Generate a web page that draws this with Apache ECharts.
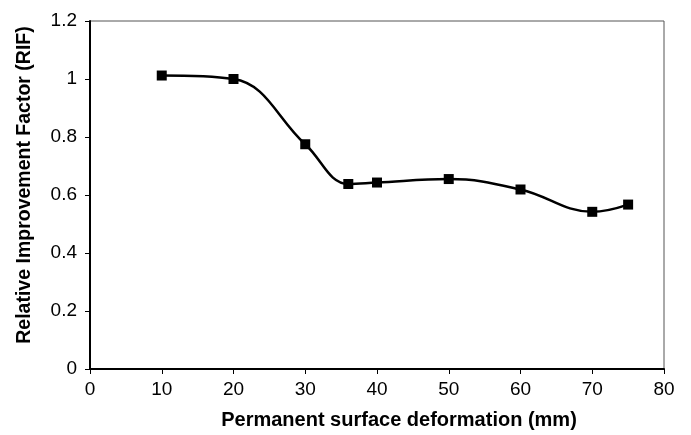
<!DOCTYPE html>
<html><head><meta charset="utf-8">
<script src="https://cdn.jsdelivr.net/npm/echarts@6/dist/echarts.min.js"></script>
<style>html,body{margin:0;padding:0;background:#fff}#c{width:691px;height:435px}</style>
</head><body><div id="c"></div>
<script>
const xValues = [10, 20, 30, 36, 40, 50, 60, 70, 75];
const rifValues = [1.012, 1.0, 0.775, 0.638, 0.643, 0.655, 0.619, 0.542, 0.567];
const xTitle = 'Permanent surface deformation (mm)';
const yTitle = 'Relative Improvement Factor (RIF)';

const chart = echarts.init(document.getElementById('c'));
const font = 'Liberation Sans, Arial, sans-serif';
chart.setOption({
  animation: false,
  grid: {left: 90, right: 27, top: 21, bottom: 62, show: true, borderColor: '#555', borderWidth: 1},
  xAxis: {
    type: 'value', min: 0, max: 80, interval: 10,
    axisLine: {show: true, onZero: false, lineStyle: {color: '#000', width: 2}},
    axisTick: {show: true, length: 5, lineStyle: {color: '#000', width: 1}},
    axisLabel: {color: '#000', fontSize: 19, fontFamily: font, margin: 11},
    splitLine: {show: false},
    name: xTitle, nameLocation: 'middle', nameGap: 41,
    nameTextStyle: {color: '#000', fontSize: 20, fontWeight: 'bold', fontFamily: font, padding: [0, 0, 0, 44]}
  },
  yAxis: {
    type: 'value', min: 0, max: 1.2, interval: 0.2,
    axisLine: {show: true, lineStyle: {color: '#000', width: 2}},
    axisTick: {show: true, length: 5, lineStyle: {color: '#000', width: 1}},
    axisLabel: {color: '#000', fontSize: 19, fontFamily: font, margin: 13,
      formatter: v => String(Math.round(v * 10) / 10)},
    splitLine: {show: false},
    name: yTitle, nameLocation: 'middle', nameGap: 55,
    nameTextStyle: {color: '#000', fontSize: 19.5, fontWeight: 'bold', fontFamily: font, padding: [0, 0, 0, 20]}
  },
  series: [{
    type: 'line',
    data: xValues.map((x, i) => [x, rifValues[i]]),
    smooth: 0.4,
    symbol: 'rect', symbolSize: 10,
    itemStyle: {color: '#000'},
    lineStyle: {color: '#000', width: 2.5}
  }]
});
</script></body></html>
